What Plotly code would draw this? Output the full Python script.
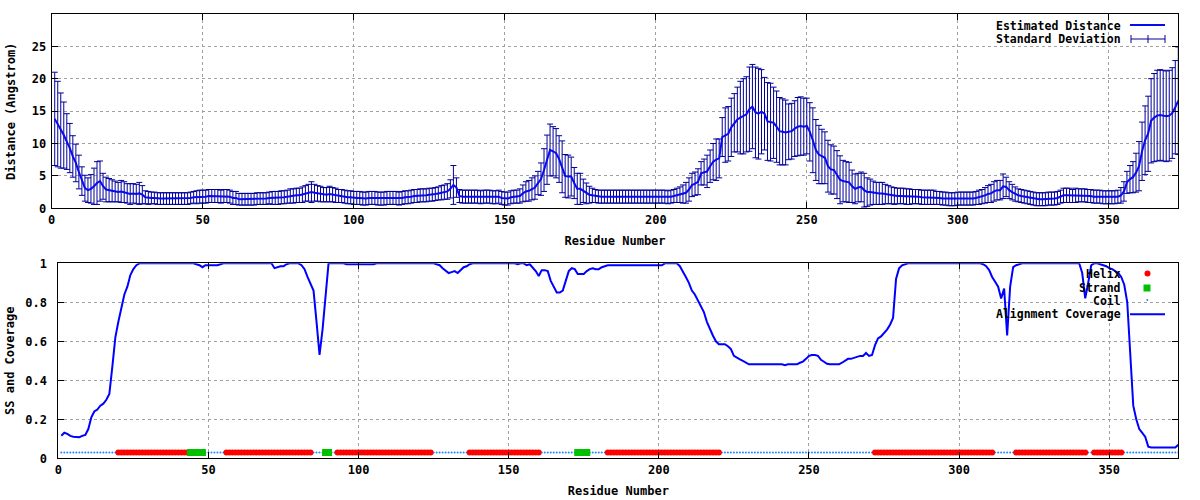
import plotly.graph_objects as go

# ---------------- data ----------------
residues = list(range(1, 374))

distance = [
    13.8, 13.0, 12.0, 11.3, 10.3, 9.3, 8.0, 7.0, 5.6, 4.2,
    3.1, 2.8, 3.0, 3.4, 3.9, 4.2, 3.4, 2.9, 2.8, 2.7,
    2.6, 2.5, 2.6, 2.5, 2.3, 2.2, 2.3, 2.2, 2.3, 2.1,
    1.7, 1.6, 1.6, 1.6, 1.5, 1.5, 1.5, 1.5, 1.5, 1.5,
    1.5, 1.5, 1.5, 1.5, 1.5, 1.6, 1.7, 1.7, 1.8, 1.8,
    1.8, 1.9, 1.9, 1.9, 1.9, 1.8, 1.9, 1.9, 1.8, 1.6,
    1.6, 1.4, 1.4, 1.4, 1.4, 1.4, 1.4, 1.5, 1.5, 1.5,
    1.5, 1.6, 1.6, 1.6, 1.6, 1.7, 1.7, 1.8, 1.9, 1.9,
    2.0, 2.0, 2.1, 2.3, 2.4, 2.5, 2.4, 2.3, 2.2, 2.1,
    2.1, 2.2, 2.1, 2.0, 1.9, 1.9, 1.8, 1.7, 1.7, 1.6,
    1.6, 1.6, 1.5, 1.5, 1.6, 1.6, 1.6, 1.5, 1.5, 1.5,
    1.6, 1.6, 1.6, 1.6, 1.5, 1.6, 1.7, 1.7, 1.8, 1.9,
    1.9, 2.0, 2.0, 2.0, 2.1, 2.1, 2.2, 2.3, 2.4, 2.5,
    2.6, 3.0, 3.6, 3.2, 1.9, 1.8, 1.8, 1.8, 1.8, 1.8,
    1.8, 1.7, 1.8, 1.8, 1.8, 1.7, 1.7, 1.8, 1.6, 1.5,
    1.5, 1.7, 1.8, 1.8, 1.9, 2.3, 2.6, 2.7, 3.0, 3.2,
    3.9, 4.5, 5.9, 7.5, 9.0, 8.8, 8.5, 7.6, 6.4, 5.0,
    4.9, 4.9, 3.9, 3.0, 3.0, 2.7, 2.3, 2.1, 2.0, 1.9,
    1.8, 1.8, 1.8, 1.8, 1.8, 1.8, 1.8, 1.8, 1.8, 1.8,
    1.8, 1.8, 1.8, 1.8, 1.8, 1.8, 1.8, 1.8, 1.8, 1.8,
    1.8, 1.8, 1.8, 1.7, 1.8, 1.9, 2.0, 2.1, 2.2, 2.4,
    2.9, 3.6, 3.8, 4.1, 5.4, 5.6, 5.7, 6.5, 7.2, 7.5,
    7.7, 11.0, 11.3, 11.5, 12.5, 13.2, 13.7, 14.0, 14.2, 14.5,
    15.3, 15.7, 14.8, 14.6, 14.9, 14.6, 13.4, 13.3, 13.2, 12.6,
    11.9, 11.8, 11.7, 11.8, 11.9, 12.3, 12.6, 12.7, 12.6, 12.7,
    11.8, 10.5, 9.0, 8.3, 8.0, 7.8, 6.5, 6.0, 5.9, 5.2,
    4.4, 4.2, 4.1, 4.0, 3.4, 3.0, 3.2, 3.3, 2.8, 2.5,
    2.5, 2.4, 2.3, 2.3, 2.3, 2.2, 2.1, 2.0, 1.9, 1.9,
    1.9, 1.9, 1.8, 1.8, 1.8, 1.8, 1.8, 1.7, 1.7, 1.7,
    1.7, 1.7, 1.6, 1.6, 1.5, 1.5, 1.4, 1.4, 1.4, 1.5,
    1.5, 1.5, 1.5, 1.5, 1.5, 1.6, 1.7, 1.8, 2.0, 2.2,
    2.3, 2.6, 2.8, 2.8, 3.4, 3.3, 2.8, 2.5, 2.2, 2.0,
    1.9, 1.8, 1.7, 1.6, 1.5, 1.4, 1.4, 1.4, 1.4, 1.5,
    1.5, 1.5, 1.6, 1.8, 2.0, 2.0, 2.0, 1.9, 2.0, 2.0,
    2.0, 2.0, 1.9, 1.9, 1.8, 1.8, 1.8, 1.7, 1.7, 1.7,
    1.7, 1.7, 1.8, 2.0, 2.6, 4.0, 4.5, 4.8, 5.5, 6.5,
    8.8, 10.5, 11.5, 13.5, 14.0, 14.3, 14.4, 14.3, 14.2, 14.3,
    14.7, 15.6, 16.6,
]

std_dev = [
    7.2, 6.6, 5.8, 5.1, 4.3, 3.8, 3.2, 2.9, 2.6, 2.2,
    2.0, 1.9, 2.2, 2.8, 3.3, 3.1, 2.0, 1.9, 1.8, 1.7,
    1.6, 1.5, 1.7, 1.6, 1.5, 1.6, 1.5, 1.5, 1.7, 1.4,
    1.0, 1.0, 0.9, 0.9, 0.9, 0.9, 0.9, 0.9, 0.9, 0.9,
    0.9, 0.9, 0.9, 0.9, 0.9, 0.9, 0.9, 1.0, 1.0, 1.0,
    1.0, 1.0, 1.0, 1.0, 1.0, 1.0, 1.0, 1.0, 1.0, 1.0,
    1.0, 0.9, 0.9, 0.9, 0.9, 0.9, 0.9, 0.9, 0.9, 0.9,
    0.9, 0.9, 1.0, 1.0, 1.0, 1.0, 1.0, 1.0, 1.1, 1.1,
    1.1, 1.1, 1.2, 1.2, 1.3, 1.6, 1.3, 1.2, 1.2, 1.1,
    1.1, 1.2, 1.1, 1.1, 1.0, 1.0, 1.0, 1.0, 1.0, 1.0,
    1.0, 1.0, 1.0, 1.0, 1.0, 1.0, 1.0, 1.0, 1.0, 1.0,
    1.0, 1.0, 1.0, 1.0, 1.0, 1.0, 1.0, 1.0, 1.0, 1.0,
    1.0, 1.0, 1.0, 1.0, 1.0, 1.0, 1.0, 1.0, 1.1, 1.1,
    1.2, 1.4, 3.0, 1.5, 1.0, 1.0, 1.0, 1.0, 1.0, 1.0,
    1.0, 1.0, 1.0, 1.0, 1.0, 1.0, 1.0, 1.0, 1.0, 1.0,
    1.0, 1.0, 1.0, 1.0, 1.1, 1.3, 1.5, 1.6, 1.7, 1.8,
    1.8, 2.5, 3.3, 3.8, 4.0, 3.8, 3.8, 3.6, 4.0, 3.3,
    3.3, 3.0, 2.4, 2.4, 2.4, 1.8, 1.6, 1.3, 1.1, 1.0,
    1.0, 1.0, 1.0, 1.0, 1.0, 1.0, 1.0, 1.0, 1.0, 1.0,
    1.0, 1.0, 1.0, 1.0, 1.0, 1.0, 1.0, 1.0, 1.0, 1.0,
    1.0, 1.0, 1.0, 1.0, 1.0, 1.0, 1.1, 1.2, 1.4, 1.6,
    1.8, 1.8, 1.8, 2.0, 1.8, 2.0, 2.5, 2.5, 2.8, 3.2,
    3.0, 3.0, 4.2, 4.2, 4.5, 4.5, 5.0, 5.6, 5.8, 5.8,
    6.5, 6.5, 7.0, 7.0, 6.5, 5.6, 6.0, 6.0, 5.5, 5.5,
    5.2, 5.1, 5.0, 4.3, 4.3, 4.3, 4.5, 4.5, 4.4, 4.3,
    4.5, 5.0, 4.7, 4.5, 4.2, 4.0, 4.0, 3.8, 3.7, 3.7,
    3.7, 3.2, 3.1, 3.1, 2.5, 2.3, 2.2, 2.3, 2.6, 2.2,
    2.0, 1.8, 1.7, 1.7, 1.7, 1.5, 1.4, 1.3, 1.3, 1.2,
    1.2, 1.2, 1.2, 1.2, 1.1, 1.1, 1.1, 1.1, 1.1, 1.1,
    1.1, 1.1, 1.0, 1.0, 1.0, 1.0, 1.0, 1.0, 1.0, 1.0,
    1.0, 1.0, 1.0, 1.0, 1.0, 1.0, 1.1, 1.1, 1.2, 1.3,
    1.4, 1.5, 1.5, 1.5, 1.9, 1.5, 1.3, 1.2, 1.1, 1.0,
    1.0, 1.0, 1.0, 1.0, 1.0, 1.0, 1.0, 1.0, 1.0, 1.0,
    1.0, 1.0, 1.0, 1.0, 1.1, 1.1, 1.1, 1.0, 1.1, 1.0,
    1.0, 1.0, 1.0, 1.0, 1.0, 1.0, 1.0, 1.0, 1.0, 1.0,
    1.0, 1.0, 1.0, 1.2, 1.5, 1.7, 2.1, 2.4, 3.0, 3.8,
    4.5, 5.3, 5.8, 6.5, 6.8, 7.0, 7.0, 7.0, 7.0, 7.0,
    7.0, 7.2, 8.3,
]

coverage = [
    0.116, 0.131, 0.125, 0.115, 0.111, 0.111, 0.108, 0.115, 0.120, 0.150,
    0.210, 0.240, 0.250, 0.270, 0.280, 0.300, 0.330, 0.470, 0.620, 0.700,
    0.770, 0.840, 0.880, 0.940, 0.970, 0.990, 1.0, 1.0, 1.0, 1.0,
    1.0, 1.0, 1.0, 1.0, 1.0, 1.0, 1.0, 1.0, 1.0, 1.0,
    1.0, 1.0, 1.0, 1.0, 1.0, 0.995, 0.99, 0.98, 0.99, 0.99,
    0.99, 0.99, 0.99, 0.995, 1.0, 1.0, 1.0, 1.0, 1.0, 1.0,
    1.0, 1.0, 1.0, 1.0, 1.0, 1.0, 1.0, 1.0, 1.0, 1.0,
    1.0, 0.975, 0.98, 0.985, 0.985, 0.995, 1.0, 1.0, 1.0, 1.0,
    0.99, 0.97, 0.93, 0.89, 0.86, 0.70, 0.53, 0.66, 0.85, 1.0,
    1.0, 1.0, 1.0, 1.0, 1.0, 0.995, 0.995, 0.995, 0.995, 0.995,
    0.995, 0.995, 0.995, 0.995, 0.995, 1.0, 1.0, 1.0, 1.0, 1.0,
    1.0, 1.0, 1.0, 1.0, 1.0, 1.0, 1.0, 1.0, 1.0, 1.0,
    1.0, 1.0, 1.0, 1.0, 1.0, 0.995, 0.99, 0.975, 0.96, 0.95,
    0.955, 0.96, 0.95, 0.965, 0.98, 0.985, 0.995, 1.0, 1.0, 1.0,
    1.0, 1.0, 1.0, 1.0, 1.0, 1.0, 1.0, 1.0, 1.0, 1.0,
    1.0, 1.0, 0.995, 1.0, 1.0, 0.99, 0.995, 0.98, 0.96, 0.935,
    0.965, 0.965, 0.96, 0.91, 0.88, 0.85, 0.85, 0.86, 0.91, 0.96,
    0.975, 0.97, 0.945, 0.945, 0.945, 0.96, 0.97, 0.975, 0.97, 0.97,
    0.98, 0.985, 0.99, 0.99, 0.99, 0.99, 0.99, 0.99, 0.99, 0.99,
    0.99, 0.99, 0.99, 0.99, 0.99, 0.99, 0.99, 0.99, 0.99, 0.99,
    0.99, 1.0, 1.0, 1.0, 1.0, 1.0, 0.985, 0.96, 0.93, 0.90,
    0.86, 0.84, 0.81, 0.78, 0.75, 0.70, 0.66, 0.63, 0.60, 0.585,
    0.585, 0.585, 0.575, 0.56, 0.525, 0.515, 0.507, 0.50, 0.49, 0.482,
    0.482, 0.482, 0.482, 0.482, 0.482, 0.482, 0.482, 0.482, 0.482, 0.482,
    0.482, 0.477, 0.482, 0.482, 0.482, 0.482, 0.49, 0.496, 0.51, 0.525,
    0.53, 0.53, 0.525, 0.505, 0.495, 0.485, 0.482, 0.482, 0.485, 0.482,
    0.49, 0.50, 0.51, 0.51, 0.515, 0.52, 0.525, 0.525, 0.54, 0.525,
    0.53, 0.58, 0.615, 0.625, 0.64, 0.66, 0.685, 0.72, 0.92, 0.974,
    0.99, 0.995, 1.0, 1.0, 1.0, 1.0, 1.0, 1.0, 1.0, 1.0,
    1.0, 1.0, 1.0, 1.0, 1.0, 1.0, 1.0, 1.0, 1.0, 1.0,
    1.0, 1.0, 1.0, 1.0, 1.0, 1.0, 1.0, 0.995, 0.985, 0.965,
    0.93, 0.905, 0.88, 0.82, 0.87, 0.63, 0.88, 0.98, 0.99, 0.995,
    1.0, 1.0, 1.0, 1.0, 1.0, 1.0, 1.0, 1.0, 1.0, 1.0,
    1.0, 1.0, 1.0, 1.0, 1.0, 1.0, 1.0, 1.0, 1.0, 1.0,
    0.95, 0.82, 0.90, 0.99, 1.0, 1.0, 0.995, 0.99, 0.985, 0.975,
    0.97, 0.96, 0.95, 0.93, 0.89, 0.80, 0.50, 0.27, 0.20, 0.15,
    0.13, 0.11, 0.06, 0.056, 0.056, 0.056, 0.056, 0.056, 0.056, 0.056,
    0.056, 0.056, 0.07,
]

# secondary structure segments (first residue, last residue)
helix_ranges = [(20, 43), (56, 84), (93, 124), (137, 160), (183, 220),
                (272, 311), (319, 342), (345, 354)]
strand_ranges = [(44, 48), (89, 90), (173, 176)]
ss_level = 0.03

x_ticks = [0, 50, 100, 150, 200, 250, 300, 350]
dist_ticks = [0, 5, 10, 15, 20, 25]
cov_ticks = [0, 0.2, 0.4, 0.6, 0.8, 1]
cov_tick_labels = ["0", "0.2", "0.4", "0.6", "0.8", "1"]

# ---------------- derived ----------------
def in_ranges(r, ranges):
    return any(a <= r <= b for a, b in ranges)

helix_x = [r for r in residues if in_ranges(r, helix_ranges)]
strand_x = [r for r in residues if in_ranges(r, strand_ranges)]
coil_x = [r for r in residues if r not in helix_x and r not in strand_x]

FONT = "DejaVu Sans Mono"
ERR = "#000099"
LINE = "#0a0aee"
COV = "#0000ff"
W, H = 1200, 500

fig = go.Figure()

fig.add_trace(go.Scatter(
    x=residues, y=distance, mode="markers",
    marker=dict(size=1, color=ERR),
    error_y=dict(type="data", array=std_dev, color=ERR, thickness=1, width=3),
    xaxis="x", yaxis="y", showlegend=False, hoverinfo="skip"))
fig.add_trace(go.Scatter(
    x=residues, y=distance, mode="lines",
    line=dict(color=LINE, width=2),
    xaxis="x", yaxis="y", showlegend=False, name="Estimated Distance"))

fig.add_trace(go.Scatter(
    x=coil_x, y=[ss_level] * len(coil_x), mode="markers",
    marker=dict(size=2, color="#1e88ff", symbol="circle"),
    xaxis="x2", yaxis="y2", showlegend=False, name="Coil"))
fig.add_trace(go.Scatter(
    x=helix_x, y=[ss_level] * len(helix_x), mode="markers",
    marker=dict(size=6, color="#ff0000", symbol="circle"),
    xaxis="x2", yaxis="y2", showlegend=False, name="Helix"))
fig.add_trace(go.Scatter(
    x=strand_x, y=[ss_level] * len(strand_x), mode="markers",
    marker=dict(size=7, color="#00c000", symbol="square"),
    xaxis="x2", yaxis="y2", showlegend=False, name="Strand"))
fig.add_trace(go.Scatter(
    x=residues, y=coverage, mode="lines",
    line=dict(color=COV, width=2),
    xaxis="x2", yaxis="y2", showlegend=False, name="Alignment Coverage"))

tickfont = dict(family=FONT, size=12, color="black", weight="bold")
titlefont = dict(family=FONT, size=12, color="black", weight="bold")
axis_common = dict(
    showline=True, linecolor="black", linewidth=1, mirror="allticks",
    ticks="inside", ticklen=6, tickcolor="black", tickwidth=1,
    showgrid=True, gridcolor="#a0a0a0", griddash="dot", gridwidth=1,
    zeroline=False, tickfont=tickfont, automargin=False,
)

def px_x(p):
    return p / W

def px_y(p):
    return 1 - p / H

fig.update_layout(
    width=W, height=H,
    margin=dict(l=0, r=0, t=0, b=0),
    paper_bgcolor="white", plot_bgcolor="white",
    showlegend=False,
    xaxis=dict(axis_common, domain=[px_x(51.7), px_x(1178.3)], anchor="y",
               range=[0, 373], tickvals=x_ticks,
               title=dict(text="Residue Number", font=titlefont, standoff=10)),
    yaxis=dict(axis_common, domain=[px_y(208.3), px_y(14.3)], anchor="x",
               range=[0, 29.94], tickvals=dist_ticks, ticklabelstandoff=2,
               title=dict(text="Distance (Angstrom)", font=titlefont, standoff=13)),
    xaxis2=dict(axis_common, domain=[px_x(58.3), px_x(1178.3)], anchor="y2",
                range=[0, 373], tickvals=x_ticks,
                title=dict(text="Residue Number", font=titlefont, standoff=10)),
    yaxis2=dict(axis_common, domain=[px_y(458.3), px_y(263.3)], anchor="x2",
                range=[0, 1], tickvals=cov_ticks, ticktext=cov_tick_labels,
                ticklabelstandoff=8,
                title=dict(text="SS and Coverage", font=titlefont, standoff=8)),
)

# ---------------- custom gnuplot-style keys ----------------
legfont = dict(family=FONT, size=11.5, color="black", weight="bold")
def key_text(text, py):
    fig.add_annotation(xref="paper", yref="paper", x=px_x(1123), y=px_y(py),
                       text=text, showarrow=False, xanchor="right",
                       yanchor="middle", font=legfont)

key_text("Estimated Distance", 25.5)
key_text("Standard Deviation", 39)
key_text("Helix", 273.5)
key_text("Strand", 287.5)
key_text("Coil", 300.5)
key_text("Alignment Coverage", 314)

def hline(x0, x1, py, color, width):
    fig.add_shape(type="line", xref="paper", yref="paper",
                  x0=px_x(x0), x1=px_x(x1), y0=px_y(py), y1=px_y(py),
                  line=dict(color=color, width=width))

def vline(px, y0, y1, color):
    fig.add_shape(type="line", xref="paper", yref="paper",
                  x0=px_x(px), x1=px_x(px), y0=px_y(y0), y1=px_y(y1),
                  line=dict(color=color, width=1))

hline(1130, 1165, 25, LINE, 2)
hline(1131, 1165, 39, ERR, 1)
vline(1131, 35, 43, ERR)
vline(1148, 35, 43, ERR)
vline(1165, 35, 43, ERR)

fig.add_shape(type="circle", xref="paper", yref="paper",
              x0=px_x(1144.5), x1=px_x(1150.5), y0=px_y(276.5), y1=px_y(270.5),
              fillcolor="#ff0000", line=dict(width=0))
fig.add_shape(type="rect", xref="paper", yref="paper",
              x0=px_x(1143.5), x1=px_x(1150.5), y0=px_y(291.5), y1=px_y(284.5),
              fillcolor="#00c000", line=dict(width=0))
fig.add_shape(type="circle", xref="paper", yref="paper",
              x0=px_x(1146.3), x1=px_x(1148.3), y0=px_y(301), y1=px_y(299),
              fillcolor="#1e88ff", line=dict(width=0))
hline(1130, 1165, 314.3, COV, 2)

fig.write_html("out.html", post_script="document.body.style.margin='0';",
               config={"displayModeBar": False})
